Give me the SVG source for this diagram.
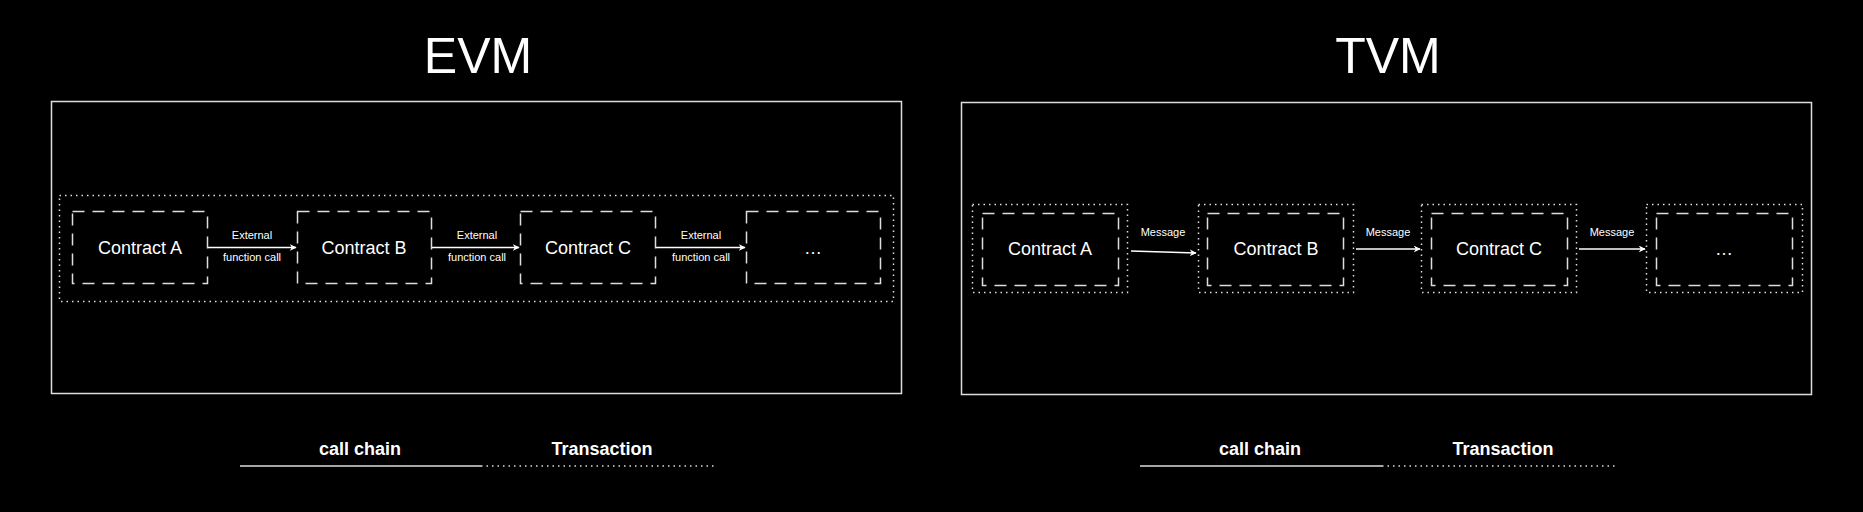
<svg xmlns="http://www.w3.org/2000/svg" width="1863" height="512" viewBox="0 0 1863 512">
<defs>
<style>
text{font-family:"Liberation Sans",Arial,sans-serif;fill:#fff;text-anchor:middle}
.t{font-size:50px}
.c{font-size:18px}
.s{font-size:11px}
.l{font-size:18px;font-weight:bold}
.frame{fill:none;stroke:#ddd;stroke-width:1.5}
.dash{fill:none;stroke:#ddd;stroke-width:1.5;stroke-dasharray:12 8}
.dot{fill:none;stroke:#ddd;stroke-width:1.5;stroke-dasharray:1.5 4}
.arr{stroke:#fff;stroke-width:1.5;fill:none;marker-end:url(#ah)}
</style>
<marker id="ah" viewBox="0 0 10 10" refX="9" refY="5" markerWidth="7" markerHeight="7" markerUnits="userSpaceOnUse" orient="auto"><path d="M0,0 L10,5 L0,10 L3,5 Z" fill="#fff"/></marker>
</defs>
<rect width="1863" height="512" fill="#000"/>
<g id="evm">
<text class="t" x="478" y="73">EVM</text>
<rect class="frame" x="51.5" y="101.5" width="850" height="292"/>
<rect class="dot" x="59.5" y="195.5" width="834" height="106"/>
<g id="evm-a"><rect class="dash" x="72.5" y="211.5" width="135" height="72"/><text class="c" x="140" y="254">Contract A</text></g>
<g id="evm-b"><rect class="dash" x="297.5" y="211.5" width="134" height="72"/><text class="c" x="364" y="254">Contract B</text></g>
<g id="evm-c"><rect class="dash" x="520.5" y="211.5" width="135" height="72"/><text class="c" x="588" y="254">Contract C</text></g>
<g id="evm-d"><rect class="dash" x="746.5" y="211.5" width="134" height="72"/><text class="c" x="813" y="254">…</text></g>
</g>
<g id="tvm">
<text class="t" x="1388" y="73">TVM</text>
<rect class="frame" x="961.5" y="102.5" width="850" height="292"/>
<g id="tvm-a"><rect class="dot" x="972.5" y="204.5" width="155" height="88"/><rect class="dash" x="982.5" y="213.5" width="136" height="72"/><text class="c" x="1050" y="255">Contract A</text></g>
<g id="tvm-b"><rect class="dot" x="1198.5" y="204.5" width="155" height="88"/><rect class="dash" x="1207.5" y="213.5" width="136" height="72"/><text class="c" x="1276" y="255">Contract B</text></g>
<g id="tvm-c"><rect class="dot" x="1421.5" y="204.5" width="155" height="88"/><rect class="dash" x="1431.5" y="213.5" width="136" height="72"/><text class="c" x="1499" y="255">Contract C</text></g>
<g id="tvm-d"><rect class="dot" x="1646.5" y="204.5" width="156" height="88"/><rect class="dash" x="1656.5" y="213.5" width="136" height="72"/><text class="c" x="1724" y="255">…</text></g>
</g>
<g id="connectors">
<path class="arr" d="M208,247.5 H296"/>
<path class="arr" d="M432,247.5 H519"/>
<path class="arr" d="M656,247.5 H745"/>
<text class="s" x="252" y="239">External</text><text class="s" x="252" y="261">function call</text>
<text class="s" x="477" y="239">External</text><text class="s" x="477" y="261">function call</text>
<text class="s" x="701" y="239">External</text><text class="s" x="701" y="261">function call</text>
<path class="arr" d="M1131,251 L1196,253"/>
<path class="arr" d="M1356,249 H1420"/>
<path class="arr" d="M1579,249 H1645"/>
<text class="s" x="1163" y="236">Message</text>
<text class="s" x="1388" y="236">Message</text>
<text class="s" x="1612" y="236">Message</text>
</g>
<g id="legend">
<line x1="240" y1="466" x2="481" y2="466" stroke="#ddd" stroke-width="1.5"/>
<line x1="481" y1="466" x2="715" y2="466" stroke="#ddd" stroke-width="1.5" stroke-dasharray="1.5 4"/>
<text class="l" x="360" y="455">call chain</text>
<text class="l" x="602" y="455">Transaction</text>
<line x1="1140" y1="466" x2="1382" y2="466" stroke="#ddd" stroke-width="1.5"/>
<line x1="1382" y1="466" x2="1616" y2="466" stroke="#ddd" stroke-width="1.5" stroke-dasharray="1.5 4"/>
<text class="l" x="1260" y="455">call chain</text>
<text class="l" x="1503" y="455">Transaction</text>
</g>
</svg>
